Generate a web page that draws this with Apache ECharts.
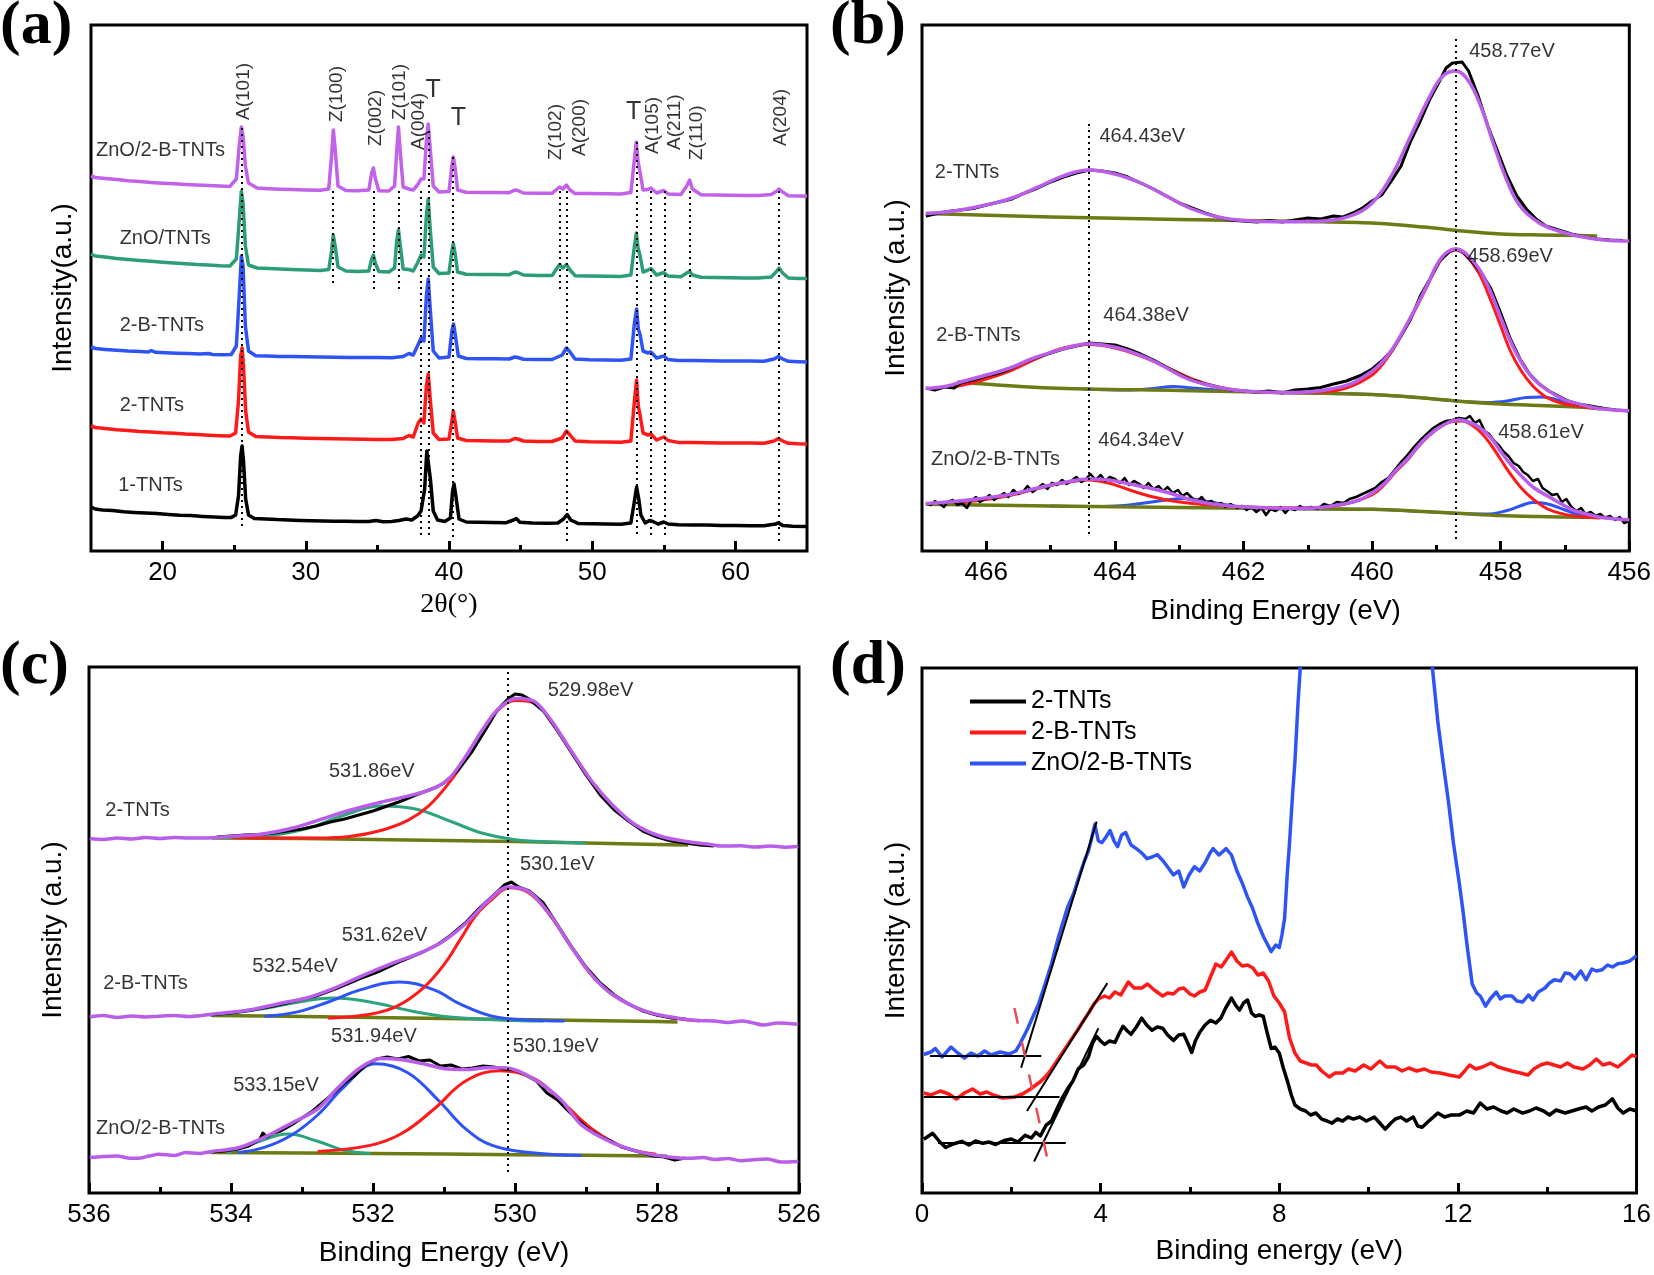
<!DOCTYPE html>
<html>
<head>
<meta charset="utf-8">
<script src="https://cdn.jsdelivr.net/npm/echarts@6/dist/echarts.min.js"></script>
<style>
html, body { margin: 0; padding: 0; background: #fff; }
#chart { width: 1654px; height: 1275px; }
</style>
</head>
<body>
<div id="chart"></div>
<script>
// ---------- (a) XRD, x = 2theta, y = height above panel bottom ----------
const xrd1TNTs = [[15.0,44],[15.3,42],[15.8,41],[16.5,40.5],[17.3,39.2],[18.0,38.6],[18.8,37.9],[19.6,37.4],[20.4,36.5],[21.2,35.8],[22.0,35.4],[22.8,34.6],[23.6,33.9],[24.3,33.5],[24.8,33.6],[25.1,36],[25.3,55],[25.45,95],[25.55,105],[25.65,90],[25.8,52],[26.0,36],[26.4,32.5],[27.2,32],[28.0,31.4],[28.8,31.1],[29.6,30.6],[30.4,30.3],[31.2,30],[32.0,29.8],[32.8,29.7],[33.6,29.5],[34.4,29.4],[34.9,30.5],[35.4,29.3],[36.0,29.4],[36.5,30.5],[37.0,32],[37.4,31],[37.8,35],[38.05,40],[38.3,62],[38.45,100],[38.55,102],[38.7,72],[38.9,40],[39.2,31],[39.7,29.5],[40.1,33],[40.25,60],[40.35,67],[40.45,58],[40.7,32],[41.2,29],[42.0,28.8],[43.0,28.5],[44.0,28.3],[44.5,31],[44.7,32.5],[44.95,28.8],[45.8,28],[46.8,27.8],[47.6,28],[48.0,32],[48.25,36.5],[48.5,31],[49.0,27.6],[50.0,27.2],[51.0,27],[52.0,26.8],[52.7,28],[52.95,50],[53.1,64],[53.25,52],[53.4,36],[53.7,28],[54.0,30.5],[54.2,29.8],[54.6,27],[55.0,29],[55.3,27],[56.0,26.3],[57.0,26],[58.0,25.9],[59.0,25.6],[60.0,25.4],[61.0,25.3],[62.0,25.2],[62.8,27],[63.0,28],[63.3,25.6],[64.0,24.8],[65.0,24.4]];
const xrd2TNTs = [[15.0,125],[15.3,123.5],[16.0,122.5],[16.8,121.2],[17.6,120.5],[18.4,119.6],[19.2,119],[20.0,118.2],[20.8,117.8],[21.6,117],[22.4,116.5],[23.2,115.8],[24.0,115.3],[24.7,115],[25.1,118],[25.3,150],[25.45,195],[25.55,203],[25.65,185],[25.8,140],[26.0,119],[26.5,114.5],[27.3,114],[28.2,113.4],[29.0,113.2],[30.0,112.7],[31.0,112.5],[32.0,112.2],[33.0,112],[34.0,111.8],[35.0,111.6],[36.0,111.5],[36.8,112.5],[37.2,115.5],[37.5,114],[37.85,128],[38.05,132],[38.25,128],[38.42,165],[38.55,177],[38.7,150],[38.9,118],[39.3,111.5],[40.0,112],[40.2,130],[40.3,140],[40.42,130],[40.6,113],[41.2,110.5],[42.2,110.3],[43.2,110],[44.2,110],[44.6,112.5],[44.8,112],[45.2,110],[46.2,109.6],[47.2,109.5],[47.9,113],[48.2,120],[48.45,116],[48.8,110],[49.8,109.3],[51.0,109],[52.0,108.8],[52.7,110],[52.95,150],[53.1,171],[53.22,145],[53.35,135],[53.55,118],[53.9,116],[54.1,117],[54.5,111],[55.0,114],[55.3,110.5],[56.0,108.6],[57.0,108.5],[58.0,108.3],[59.0,108.1],[60.0,108],[61.0,107.9],[62.0,107.8],[62.7,110],[63.0,112.5],[63.3,110],[63.7,107.7],[64.4,107.2],[65.0,107]];
const xrd2BTNTs = [[15.0,204],[15.3,202.5],[16.0,201.6],[16.8,200.8],[17.6,200],[18.4,199.5],[19.0,199],[19.2,200.5],[19.5,198.7],[20.2,198.3],[21.0,197.8],[21.8,197.4],[22.6,197],[23.2,197.5],[23.5,196.5],[24.2,196.2],[24.8,196.5],[25.15,205],[25.35,255],[25.5,295],[25.62,285],[25.78,225],[26.0,200],[26.5,195.2],[27.3,195],[28.2,194.6],[29.0,194.4],[30.0,194.2],[31.0,193.9],[32.0,193.8],[33.0,193.6],[34.0,193.5],[35.0,193.4],[36.0,193.3],[36.8,194.5],[37.2,197.5],[37.5,196],[37.8,205],[38.05,213],[38.25,210],[38.42,255],[38.55,272],[38.7,240],[38.9,200],[39.3,193],[40.0,194],[40.2,220],[40.32,227],[40.45,215],[40.65,195],[41.2,192.5],[42.2,192.3],[43.2,192.2],[44.2,192],[44.6,194],[44.8,193.5],[45.2,191.8],[46.2,191.6],[47.2,191.5],[47.9,196],[48.2,203],[48.45,199],[48.8,192],[49.8,191.2],[51.0,191],[52.0,190.8],[52.7,192],[52.95,228],[53.1,242],[53.22,222],[53.35,216],[53.55,200],[53.9,198],[54.1,199],[54.5,193],[55.0,195],[55.3,191.5],[56.0,190.6],[57.0,190.5],[58.0,190.3],[59.0,190.1],[60.0,190],[61.0,189.9],[62.0,189.8],[62.7,192],[63.0,194.5],[63.3,192],[63.7,189.7],[64.4,189.3],[65.0,189]];
const xrdZnOTNTs = [[15.0,297],[15.3,295],[16.0,294],[16.8,292.6],[17.6,291.5],[18.4,290.6],[19.2,289.7],[20.0,288.8],[20.8,288],[21.6,287.3],[22.4,286.5],[23.2,286],[24.0,285.3],[24.7,285],[25.15,292],[25.35,330],[25.5,360],[25.62,348],[25.78,305],[26.0,286],[26.6,283],[27.4,282.5],[28.2,282],[29.0,281.6],[30.0,281],[31.0,280.5],[31.6,281.5],[31.8,300],[31.92,316],[32.05,305],[32.25,284],[32.8,280],[33.6,279.5],[34.4,280],[34.6,292],[34.72,296],[34.85,288],[35.1,279.5],[35.8,279],[36.2,283],[36.35,310],[36.47,321],[36.6,305],[36.8,282],[37.2,281.5],[37.5,280],[37.8,288],[38.05,296],[38.25,294],[38.42,335],[38.55,352],[38.7,320],[38.9,284],[39.3,277.5],[40.0,278],[40.2,300],[40.3,307.5],[40.42,298],[40.6,279],[41.2,276.8],[42.2,276.6],[43.2,276.5],[44.2,276.3],[44.6,279],[44.8,278.5],[45.2,276],[46.2,275.6],[47.2,275.5],[47.55,283],[47.72,286.5],[47.95,283],[48.2,286.5],[48.45,281],[48.8,275.3],[49.8,275],[51.0,274.8],[52.0,274.6],[52.7,276],[52.95,305],[53.08,318],[53.2,303],[53.35,295],[53.55,279],[53.9,281],[54.1,282.5],[54.5,276],[55.0,278.5],[55.3,275],[56.2,274.3],[56.6,278],[56.8,279.7],[57.0,276],[57.6,273.8],[58.6,273.5],[59.6,273.3],[60.6,273.1],[61.6,273],[62.5,274],[62.9,280],[63.05,283],[63.3,278],[63.7,273],[64.4,272.6],[65.0,272.4]];
const xrdZnO2BTNTs = [[15.0,375],[15.3,373.5],[16.0,372.5],[16.8,371.4],[17.6,370.3],[18.4,369.5],[19.2,368.6],[20.0,367.8],[20.8,367.2],[21.6,366.5],[22.4,366],[23.2,365.4],[24.0,364.9],[24.7,364.6],[25.15,372],[25.35,405],[25.5,424],[25.62,415],[25.78,385],[26.0,368],[26.6,363],[27.4,362.3],[28.2,361.8],[29.0,361.4],[30.0,361],[31.0,360.8],[31.6,362],[31.8,395],[31.92,421],[32.05,402],[32.25,365],[32.8,360.5],[33.6,360.3],[34.4,361],[34.6,378],[34.72,383],[34.85,373],[35.1,360.2],[35.8,360],[36.2,365],[36.35,400],[36.47,424],[36.6,398],[36.8,364],[37.2,362],[37.5,361],[37.8,366],[38.05,372],[38.25,372],[38.42,410],[38.55,427],[38.7,400],[38.9,365],[39.3,359],[40.0,359.5],[40.2,385],[40.3,394],[40.42,384],[40.6,361],[41.2,358.8],[42.2,358.6],[43.2,358.4],[44.2,358.3],[44.6,361],[44.8,360.5],[45.2,358],[46.2,357.8],[47.2,357.7],[47.55,362],[47.72,364],[47.95,362],[48.2,366],[48.45,361],[48.8,357.5],[49.8,357.4],[51.0,357.2],[52.0,357],[52.7,358.5],[52.95,392],[53.08,409],[53.2,390],[53.35,378],[53.55,361],[53.9,361.5],[54.1,363],[54.5,358],[55.0,360.5],[55.3,357],[56.2,356.5],[56.6,365],[56.8,371],[57.0,362],[57.6,356.3],[58.6,356],[59.6,355.8],[60.6,355.6],[61.6,355.4],[62.5,356.5],[62.9,360],[63.05,362],[63.3,359],[63.7,355.3],[64.4,355],[65.0,354.8]];
const xrdGuides = [[25.52,423,22],[31.9,360,266],[34.73,360,260],[36.46,360,258],[38.05,360,14],[38.6,420,14],[40.26,394,14],[47.7,360,262],[48.25,360,6],[53.1,409,14],[54.07,360,12],[55.06,360,12],[56.83,360,258],[63.0,360,10]];
const xrdPeakNames = ['A(101)','Z(100)','Z(002)','Z(101)','A(004)','Z(102)','A(200)','A(105)','A(211)','Z(110)','A(204)'];
const xrdPeakPos = [[25.66,431],[32.16,429],[34.87,405],[36.58,431],[37.88,401],[47.47,391],[49.15,395],[54.25,397],[55.75,401],[57.32,391],[63.18,405]];
const xrdTNames = ['T','T','T'];
const xrdTPos = [[38.9,461],[40.66,433],[52.9,439]];
const xrdSampleNames = ['ZnO/2-B-TNTs','ZnO/TNTs','2-B-TNTs','2-TNTs','1-TNTs'];
const xrdSamplePos = [[15.35,401],[17.0,313],[17.0,226],[17.0,146],[16.9,66]];
const ticksA = [20,30,40,50,60];
const minorA = [25,35,45,55];

// ---------- (b) Ti 2p ----------
const tiData2TNTs = [[466.94,335],[466.8,337],[466.6,339.5],[466.4,341],[466.2,342.5],[466.0,346],[465.8,349],[465.6,352],[465.4,358],[465.2,363],[465.0,369],[464.8,374],[464.6,378],[464.4,381],[464.2,380],[464.0,378],[463.8,374],[463.6,368],[463.4,362],[463.2,355],[463.0,348],[462.8,343],[462.6,338],[462.4,334],[462.2,331],[462.0,330],[461.8,329],[461.6,330.5],[461.4,329],[461.2,331],[461.0,333],[460.8,332],[460.6,335],[460.45,334],[460.3,338],[460.15,343],[460.0,350],[459.85,356],[459.7,370],[459.55,385],[459.4,410],[459.25,430],[459.1,452],[458.95,470],[458.85,483],[458.75,488],[458.6,489],[458.5,480],[458.35,455],[458.2,425],[458.05,400],[457.9,375],[457.75,355],[457.6,342],[457.45,332],[457.3,325],[457.1,321],[456.9,317],[456.7,314],[456.5,312],[456.3,311],[456.1,310.5]];
const tiFit2TNTs = [[466.94,337.4],[466.5,340],[466.04,345.5],[465.6,353],[465.2,363.8],[464.8,375.2],[464.4,380.9],[464.0,377],[463.6,368],[463.2,355],[462.8,342],[462.4,334],[462.0,330.5],[461.5,329.3],[461.0,329.5],[460.6,331],[460.3,336],[460.0,348],[459.7,375],[459.4,415],[459.1,455],[458.9,475],[458.7,480],[458.5,470],[458.3,443],[458.1,405],[457.9,370],[457.7,345],[457.4,328],[457.1,320],[456.8,315],[456.4,311],[456.0,310]];
const tiBg2TNTs = [[466.94,337.4],[465,334],[463,331.5],[461,329.5],[460,328],[459.2,324],[458.6,320],[458,317],[457.4,316],[456.8,315.5],[456.5,315]];
const tiData2B = [[466.94,163],[466.8,161],[466.65,164],[466.5,163],[466.4,168],[466.2,171],[466.0,175],[465.8,178],[465.6,183],[465.4,189],[465.2,194],[465.0,198],[464.8,202],[464.6,205],[464.4,208],[464.2,207],[464.0,206],[463.8,202],[463.6,197],[463.4,191],[463.2,184],[463.0,177],[462.8,171],[462.6,167],[462.4,164],[462.2,161],[462.0,160],[461.8,159],[461.6,160],[461.4,158],[461.2,161],[461.0,162],[460.8,163.5],[460.6,167],[460.4,170],[460.2,175],[460.0,182],[459.85,190],[459.7,200],[459.55,215],[459.4,232],[459.25,255],[459.1,272],[458.95,290],[458.8,299],[458.7,302],[458.6,300],[458.45,290],[458.3,278],[458.15,262],[458.0,238],[457.85,212],[457.7,192],[457.55,177],[457.4,167],[457.25,160],[457.1,155],[456.95,150],[456.8,147],[456.6,145],[456.4,142.5],[456.2,141],[456.0,140]];
const tiFit2B = [[466.94,162.6],[466.6,165],[466.37,169.5],[466.0,176],[465.63,183],[465.3,192],[465.06,197.2],[464.7,204],[464.4,207.3],[464.1,205],[463.84,201.2],[463.5,193],[463.25,185],[462.9,173],[462.6,166.7],[462.2,161.5],[461.94,159.8],[461.6,158.8],[461.3,158.5],[460.9,159.5],[460.64,162],[460.3,168],[459.98,180.9],[459.8,192],[459.65,205.3],[459.5,222],[459.3,245.9],[459.15,265],[458.99,286.6],[458.85,298],[458.7,302],[458.55,298],[458.34,282.5],[458.15,258],[458.0,233.7],[457.85,210],[457.68,189],[457.5,173],[457.27,160.6],[457.0,151],[456.86,148.4],[456.6,144],[456.45,142.3],[456.2,140.8],[456.0,140.2]];
const tiRed2B = [[466.5,164],[466.0,172],[465.6,181],[465.2,193],[464.8,203],[464.4,206.5],[464.0,203],[463.6,195],[463.2,184],[462.8,172],[462.4,164],[462.0,160],[461.6,158.5],[461.2,158.3],[460.8,159],[460.4,163],[460.0,176],[459.8,190],[459.65,204],[459.5,221],[459.3,245],[459.15,264],[458.99,285],[458.85,297],[458.7,301],[458.55,296],[458.34,278],[458.15,250],[458.0,225],[457.85,200],[457.68,180],[457.5,165],[457.27,153],[457.0,147],[456.86,145.5],[456.6,143],[456.45,142]];
const tiBlue2B = [[464.5,162],[463.8,161],[463.4,162.5],[463.1,164.5],[462.8,163],[462.4,161],[462.0,159.8],[461.0,158],[460.0,156.5],[459.2,153],[458.6,149.5],[458.2,148.5],[457.9,150],[457.6,153.5],[457.35,154],[457.1,151],[456.85,146.5],[456.6,144],[456.4,142.5]];
const tiBg2B = [[466.45,169],[465,163],[463,160.5],[461,158],[460,156.5],[459.2,153],[458.6,149.5],[458,147],[457.4,145.5],[456.8,144],[456.4,142.5]];
const tiDataZnO = [[466.94,48],[466.86,46],[466.8,50],[466.72,47],[466.66,44],[466.6,49],[466.52,51],[466.45,46],[466.38,48],[466.3,43],[466.24,50],[466.16,54],[466.1,49],[466.02,52],[465.95,56],[465.88,51],[465.8,55],[465.72,58],[465.66,54],[465.58,61],[465.5,57],[465.42,60],[465.36,65],[465.28,59],[465.2,63],[465.12,67],[465.05,62],[464.98,68],[464.9,66],[464.82,71],[464.75,67],[464.68,70],[464.6,74],[464.52,69],[464.45,72],[464.38,77],[464.3,71],[464.22,76],[464.15,70],[464.08,74],[464.0,72],[463.92,68],[463.85,73],[463.78,66],[463.7,70],[463.62,67],[463.55,63],[463.48,68],[463.4,62],[463.32,65],[463.25,60],[463.18,64],[463.1,58],[463.02,61],[462.95,55],[462.88,58],[462.8,53],[462.72,50],[462.65,54],[462.58,48],[462.5,50],[462.42,46],[462.35,48],[462.28,44],[462.2,47],[462.1,43],[462.02,45],[461.95,41],[461.88,44],[461.8,39],[461.72,43],[461.65,36],[461.58,42],[461.5,40],[461.42,44],[461.35,38],[461.28,43],[461.2,41],[461.12,45],[461.05,42],[460.95,44],[460.85,42],[460.75,47],[460.65,45],[460.55,49],[460.45,48],[460.35,52],[460.25,54],[460.15,57],[460.05,60],[459.95,63],[459.85,69],[459.75,73],[459.65,81],[459.55,89],[459.45,96],[459.35,104],[459.25,111],[459.15,117],[459.05,123],[458.95,127],[458.85,130],[458.75,131],[458.65,133],[458.55,132],[458.48,135],[458.4,128],[458.33,131],[458.25,120],[458.18,117],[458.1,110],[458.02,105],[457.95,99],[457.88,95],[457.8,88],[457.72,85],[457.65,79],[457.58,76],[457.5,70],[457.42,72],[457.35,63],[457.28,60],[457.2,56],[457.12,57],[457.05,49],[456.98,52],[456.9,44],[456.82,40],[456.75,43],[456.68,37],[456.6,39],[456.52,35],[456.45,37],[456.38,33],[456.3,35],[456.22,31],[456.15,34],[456.08,28],[456.0,30]];
const tiFitZnO = [[466.94,47.6],[466.5,49.5],[466.04,52.8],[465.6,57],[465.2,63],[464.8,68.5],[464.4,72],[464.1,71],[463.77,67],[463.4,62],[463.1,57],[462.8,51],[462.45,46.7],[462.1,44.5],[461.78,43.5],[461.4,42.8],[461.13,42.7],[460.8,43.5],[460.47,46.7],[460.2,51],[459.98,58.9],[459.8,68],[459.65,79.3],[459.45,92],[459.3,103.7],[459.15,114],[458.99,122],[458.8,129],[458.66,131.3],[458.5,129],[458.34,124],[458.15,113],[458.0,99.6],[457.85,87],[457.68,75.2],[457.5,64],[457.27,54.9],[457.0,45],[456.86,40.7],[456.6,36],[456.45,33.7],[456.2,32],[456.0,31.3]];
const tiRedZnO = [[466.5,48],[466.0,51.5],[465.6,56],[465.2,62.5],[464.8,68],[464.4,71.1],[464.1,68],[463.77,61],[463.4,54],[463.1,50],[462.8,47.5],[462.4,45.5],[462.0,44.3],[461.5,43],[461.0,43.2],[460.6,45],[460.3,49],[459.98,57],[459.8,67],[459.65,78],[459.45,91],[459.3,103],[459.1,116],[458.9,126],[458.75,129.5],[458.6,130],[458.45,126],[458.3,118],[458.15,106],[458.0,91.5],[457.85,77],[457.68,63],[457.5,52],[457.27,42],[457.0,36.5],[456.86,35],[456.6,33.5],[456.45,33]];
const tiBlueZnO = [[465.0,45],[464.4,44.5],[464.0,45],[463.6,47.5],[463.2,51],[462.93,52.5],[462.6,50],[462.2,45.5],[461.8,42.8],[461.0,42.2],[460.0,41.7],[459.2,39.5],[458.6,37.5],[458.2,37],[457.9,40.5],[457.7,45],[457.5,48.5],[457.3,47.5],[457.0,41],[456.8,36.5],[456.6,34.5],[456.45,33.5]];
const tiBgZnO = [[466.94,46.7],[465,45],[463,43.5],[461,42.2],[460,41.7],[459.2,39.5],[458.6,37.5],[458,35.5],[457.4,34.5],[456.8,33.8],[456.3,33.5]];
const tiGuides = [[464.4,427,16],[458.7,512,12]];
const tiLabelNames = ['458.77eV','464.43eV','2-TNTs','458.69eV','464.38eV','2-B-TNTs','458.61eV','464.34eV','ZnO/2-B-TNTs'];
const tiLabelPos = [[458.49,500],[464.24,415],[466.8,379],[458.52,295],[464.18,236],[466.78,216],[458.04,119],[464.26,111],[466.86,92]];
const ticksB = [456,458,460,462,464,466];
const minorB = [457,459,461,463,465];

// ---------- (c) O 1s ----------
const oData2TNTs = [[534.2,356],[534.0,357],[533.8,358],[533.6,358.5],[533.4,360],[533.2,362],[533.0,364],[532.8,367],[532.6,371],[532.4,374],[532.2,378],[532.0,382],[531.8,387],[531.6,392],[531.4,398],[531.25,402],[531.1,406],[531.0,410],[530.8,423],[530.6,442],[530.4,465],[530.25,483],[530.1,494],[530.0,499],[529.9,498],[529.8,494],[529.6,482],[529.4,462],[529.2,440],[529.0,418],[528.8,398],[528.6,383],[528.4,372],[528.2,362],[528.0,356],[527.8,352],[527.6,350],[527.4,348],[527.2,347]];
const oFit2TNTs = [[535.99,354.5],[535.8,353.5],[535.6,355],[535.4,354],[535.2,355.5],[535.0,354.5],[534.8,355.5],[534.6,355],[534.27,355.3],[533.9,357],[533.53,359.3],[533.08,365.8],[532.78,372.6],[532.33,382.7],[531.89,390.8],[531.44,398.1],[531.14,404.9],[530.92,415],[530.69,437],[530.47,462],[530.25,483],[529.99,494.5],[529.73,491.7],[529.5,473.6],[529.2,441.3],[528.91,411],[528.61,386.8],[528.31,368.6],[527.94,356.5],[527.56,351.2],[527.3,349],[527.1,347],[526.82,347.2],[526.6,346],[526.4,347],[526.2,345.8],[526.01,346.4]];
const oRed2TNTs = [[534.0,355.5],[533.3,355],[532.78,355],[532.33,356.5],[531.89,362.5],[531.51,372.6],[531.22,386.8],[530.92,411],[530.69,435],[530.47,461],[530.25,482],[529.99,492.5],[529.73,490],[529.5,472.5],[529.2,440],[528.91,410],[528.61,386],[528.31,368],[527.94,356],[527.56,350.5],[527.3,348.5]];
const oTeal2TNTs = [[534.2,355.5],[533.53,357],[532.93,364.5],[532.41,377.8],[531.89,387],[531.4,384],[530.92,372],[530.47,360],[530.02,353.5],[529.5,351],[529.0,350]];
const oBg2TNTs = [[534.27,355],[533,354.5],[532,353.5],[531,352.5],[530,351.5],[529,350],[528,348.5],[527.56,348]];
const oData2B = [[534.3,178],[534.0,180],[533.7,183],[533.4,187],[533.1,192],[532.8,197],[532.5,205],[532.2,214],[531.9,222],[531.6,232],[531.3,241],[531.1,248],[530.9,258],[530.7,270],[530.5,285],[530.3,298],[530.15,308],[530.05,311],[529.95,306],[529.8,302],[529.6,290],[529.4,268],[529.2,246],[529.0,226],[528.8,210],[528.6,198],[528.4,189],[528.2,182],[528.0,178],[527.8,175],[527.6,174]];
const oFit2B = [[535.99,176],[535.8,177.5],[535.6,175.5],[535.4,177],[535.2,176],[535.02,176.8],[534.8,177.5],[534.6,176.5],[534.27,178.8],[533.75,182.9],[533.3,189.7],[532.93,195],[532.56,204.3],[532.18,216.4],[531.74,229.3],[531.29,241.4],[530.99,252.7],[530.69,269.7],[530.4,290.7],[530.1,306],[529.8,301.2],[529.5,277.8],[529.2,245.5],[528.91,217.2],[528.61,197.8],[528.16,181.7],[527.71,174.8],[527.4,172.5],[527.19,172],[527.0,170.5],[526.8,172],[526.67,170.4],[526.5,168],[526.3,170],[526.01,168.8]];
const oRed2B = [[532.63,174.8],[532.04,178.8],[531.66,186.9],[531.29,205.1],[530.99,229.3],[530.77,253.6],[530.55,277.8],[530.32,293.9],[530.08,305.2],[529.8,300],[529.5,277],[529.2,245],[528.91,217],[528.61,197.5],[528.16,181.5],[527.71,174.5],[527.4,172]];
const oBlue2B = [[533.53,176.8],[533.08,180.9],[532.63,191],[532.18,203.1],[531.63,211.1],[531.14,203.1],[530.77,188.9],[530.32,176.8],[529.8,172.8],[529.3,172]];
const oTeal2B = [[534.12,178.8],[533.53,184.5],[533.0,191.5],[532.56,195],[532.04,191],[531.44,181.7],[530.92,176],[530.17,172.8],[529.6,172]];
const oBg2B = [[534.27,177.5],[533,176.5],[532,175.5],[531,174.5],[530,173.5],[529,172.5],[528,171.5],[527.71,171]];
const oDataZnO = [[534.3,41],[534.1,42],[533.9,44],[533.75,47],[533.6,53],[533.55,60],[533.5,56],[533.4,60],[533.3,62],[533.15,68],[533.0,75],[532.85,82],[532.7,91],[532.55,100],[532.4,110],[532.25,118],[532.1,128],[531.95,134],[531.8,136],[531.65,134],[531.5,136.5],[531.35,132],[531.2,133],[531.05,127],[530.9,128],[530.75,124],[530.6,125],[530.45,127],[530.3,126],[530.15,124],[530.0,123],[529.85,118],[529.7,112],[529.55,100],[529.4,93],[529.25,82],[529.1,72],[528.95,63],[528.8,57],[528.65,52],[528.5,46],[528.35,43],[528.2,40],[528.05,37],[527.9,36],[527.75,33],[527.6,35]];
const oFitZnO = [[535.99,35.5],[535.8,36.5],[535.61,37.1],[535.45,35],[535.31,34.7],[535.15,37],[535.02,38.8],[534.8,37.5],[534.64,40.4],[534.45,39.5],[534.27,41.6],[533.9,45.2],[533.53,55.7],[533.15,69.8],[532.78,84],[532.48,106.2],[532.18,125.2],[531.89,134.4],[531.59,133.2],[531.29,129.2],[530.99,124.3],[530.69,123.5],[530.4,125.2],[530.17,125.2],[529.95,121.9],[529.65,110],[529.35,93],[529.06,67.8],[528.61,49.7],[528.16,39.6],[527.86,36.3],[527.56,34.7],[527.35,35.5],[527.19,33.5],[527.0,34.5],[526.82,32.3],[526.6,33.5],[526.45,33.9],[526.25,31],[526.01,31.5]];
const oRedZnO = [[532.78,41.6],[532.04,47.6],[531.59,59.7],[531.14,84],[530.69,112.2],[530.21,122.3],[529.73,114.3],[529.35,92],[528.91,63.8],[528.46,45.6],[528.01,38.8]];
const oBlueZnO = [[533.9,40.4],[533.53,45.6],[533.15,57.7],[532.78,78],[532.41,106],[531.96,129.2],[531.51,120.3],[531.07,92],[530.69,63.8],[530.32,47.6],[529.8,40.4],[529.06,37.5]];
const oTealZnO = [[534.05,40.4],[533.68,49.7],[533.19,58.9],[532.78,51.7],[532.41,42.8],[532.04,39.6]];
const oBgZnO = [[534.27,40.4],[532,39.5],[530,38.3],[528,37],[527.86,36.8]];
const oGuides = [[530.1,521,21]];
const oLabelNames = ['529.98eV','531.86eV','2-TNTs','530.1eV','531.62eV','532.54eV','2-B-TNTs','531.94eV','530.19eV','533.15eV','ZnO/2-B-TNTs'];
const oLabelPos = [[529.54,503],[532.62,422],[535.77,383],[529.93,329],[532.44,258],[533.7,227],[535.8,210],[532.59,157],[530.03,147],[533.97,108],[535.9,65]];
const ticksC = [526,528,530,532,534,536];
const minorC = [527,529,531,533,535];

// ---------- (d) valence band ----------
const vb2TNTs = [[0.04,53.7],[0.24,59.7],[0.4,51],[0.53,45.6],[0.7,49],[0.89,51.7],[1.05,48],[1.2,52],[1.36,49.7],[1.5,51],[1.65,48.5],[1.84,52.5],[2.0,54],[2.15,51],[2.31,57.7],[2.45,55],[2.55,60.6],[2.65,57],[2.78,67.8],[2.9,72],[3.02,84],[3.14,95],[3.26,104.2],[3.38,112],[3.5,124.3],[3.62,128],[3.73,136.5],[3.82,150],[3.91,156.6],[4.0,152],[4.09,148.6],[4.2,152],[4.32,150.6],[4.42,160],[4.5,166.7],[4.6,162],[4.68,158.7],[4.8,166],[4.92,174.8],[5.03,168],[5.15,162.7],[5.27,166],[5.39,164.7],[5.5,158],[5.63,152.6],[5.75,158],[5.86,158.7],[5.95,150],[6.04,140.5],[6.12,152],[6.22,160.7],[6.34,168],[6.46,172.8],[6.58,170],[6.69,174.8],[6.8,185],[6.93,195],[7.02,188],[7.11,182.9],[7.2,190],[7.29,193],[7.38,180],[7.46,176.8],[7.55,178],[7.64,176.8],[7.73,160],[7.82,144.5],[7.9,146],[8.0,140],[8.09,125],[8.18,112.2],[8.27,98],[8.35,88],[8.47,84],[8.59,82],[8.7,78],[8.82,80],[8.95,73.9],[9.07,72],[9.18,69.8],[9.3,74],[9.42,72],[9.54,76],[9.66,73.9],[9.8,76],[9.95,72],[10.13,75.9],[10.25,70],[10.37,63.8],[10.5,70],[10.6,74],[10.72,75.9],[10.85,72],[11.0,76],[11.1,67],[11.2,65.8],[11.35,72],[11.55,79.9],[11.7,76],[11.85,78],[12.03,77.9],[12.2,82],[12.35,80],[12.5,90],[12.65,84],[12.8,86],[12.97,82],[13.1,80],[13.25,84],[13.45,79.9],[13.6,82],[13.75,85],[13.92,82],[14.05,78],[14.2,83],[14.4,80],[14.55,82],[14.7,84],[14.87,86],[15.0,82],[15.15,86],[15.3,88],[15.46,94.1],[15.58,85],[15.7,79.9],[15.85,84],[16.0,82]];
const vb2BTNTs = [[0.04,100],[0.2,98],[0.41,102],[0.6,99],[0.77,94],[0.95,100],[1.13,104],[1.3,99],[1.45,101],[1.6,98],[1.8,95],[2.07,96],[2.25,99],[2.43,104],[2.55,108],[2.67,112],[2.8,118],[2.9,124],[3.02,132],[3.14,140],[3.26,148],[3.38,156],[3.5,164],[3.61,172],[3.73,180],[3.85,189],[3.95,194],[4.09,197],[4.2,195],[4.32,201],[4.45,198],[4.62,211],[4.75,205],[4.92,205],[5.05,209],[5.2,203],[5.39,197],[5.5,200],[5.63,199],[5.75,204],[5.86,205],[6.0,199],[6.1,197],[6.22,201],[6.34,203],[6.45,215],[6.58,229],[6.7,226],[6.81,233],[6.93,241],[7.05,232],[7.17,227],[7.29,228],[7.41,225],[7.52,218],[7.64,220],[7.76,212],[7.88,197],[8.0,190],[8.12,181],[8.23,155],[8.35,140],[8.47,132],[8.6,130],[8.72,128],[8.83,128],[8.95,122],[9.12,116],[9.25,120],[9.42,120],[9.55,124],[9.7,122],[9.89,128],[10.05,124],[10.25,132],[10.4,126],[10.6,126],[10.75,122],[10.9,125],[11.08,122],[11.25,124],[11.4,121],[11.6,120],[11.8,118],[12.03,116],[12.15,122],[12.26,128],[12.4,124],[12.55,126],[12.74,130],[12.9,126],[13.05,124],[13.21,122],[13.4,120],[13.57,118],[13.7,124],[13.85,128],[14.0,130],[14.15,128],[14.3,126],[14.45,130],[14.6,126],[14.8,124],[14.95,128],[15.1,134],[15.25,128],[15.4,130],[15.58,126],[15.75,132],[15.9,138],[16.0,136]];
const vbZnO2BTNTs = [[0.04,138.5],[0.2,141],[0.3,144.5],[0.45,136],[0.65,146],[0.8,140],[0.95,135],[1.1,140],[1.25,137],[1.4,142],[1.55,138],[1.75,141],[1.95,139],[2.1,142],[2.19,148.6],[2.37,164.7],[2.5,178],[2.61,188.9],[2.75,208],[2.9,229.3],[3.05,255],[3.26,285.8],[3.4,300],[3.5,314.1],[3.62,330],[3.73,342.3],[3.8,355],[3.87,368.6],[3.95,352],[4.03,350.4],[4.12,356],[4.21,362.5],[4.3,352],[4.38,346.4],[4.47,358],[4.56,360.5],[4.68,348],[4.8,344.4],[4.92,340],[5.04,334.3],[5.15,336],[5.27,338.3],[5.4,332],[5.5,326],[5.63,318.1],[5.75,322],[5.86,306],[5.98,318],[6.1,326.2],[6.22,322],[6.34,330.2],[6.45,340],[6.52,344.4],[6.65,338],[6.81,344.4],[6.93,338],[7.05,322.2],[7.17,310],[7.29,295.9],[7.4,285],[7.52,269.7],[7.65,256],[7.82,241.4],[7.92,248],[8.0,245.5],[8.06,258],[8.12,275],[8.18,320],[8.23,350.4],[8.3,400],[8.35,431.2],[8.42,490],[8.47,524.8],[8.55,600],[8.7,650],[11.2,650],[11.35,600],[11.43,524.8],[11.55,471.5],[11.67,430],[11.79,390.8],[11.9,350],[12.03,310],[12.12,280],[12.2,249.5],[12.32,209.1],[12.42,200],[12.5,197],[12.62,186.9],[12.72,194],[12.86,201],[12.95,194],[13.05,197],[13.21,197],[13.32,192],[13.45,191],[13.58,198],[13.68,193],[13.8,201],[13.95,205],[14.05,210],[14.16,213.2],[14.3,212],[14.4,220],[14.51,219.2],[14.62,214],[14.75,222],[14.87,213.2],[15.0,224],[15.1,222],[15.23,223.3],[15.35,228],[15.46,226],[15.58,229.3],[15.7,230],[15.85,232],[16.0,237.4]];
// onset construction: baselines and tangents, then the dashed guide
const vbTangents = [[[0.18,137.7],[2.67,137.7]],[[2.22,125.2],[3.91,371.4]],[[0.04,96.1],[3.08,96.1]],[[2.35,82],[4.15,209.9]],[[0.36,50.5],[3.22,50.5]],[[2.51,31.5],[3.95,164.7]]];
const vbOnset = [[[2.07,185],[2.88,19.4]]];
const ticksD = [0,4,8,12,16];
const minorD = [2,6,10,14];

// ---------- chart ----------
const SANS = 'Liberation Sans, Arial, sans-serif';
const SERIF = 'Liberation Serif, Times New Roman, serif';
const H = [526, 526, 526, 525];

function mainX(gi, min, max, inverse, ticks, name, gap, font) {
  return {
    type: 'value', gridIndex: gi, min: min, max: max, inverse: inverse, position: 'bottom',
    axisLine: { show: false }, splitLine: { show: false },
    axisTick: { show: true, inside: true, length: 10, customValues: ticks, lineStyle: { color: '#000', width: 3 } },
    axisLabel: { show: true, customValues: ticks, margin: 9, color: '#000', fontSize: 26, fontFamily: SANS },
    name: name, nameLocation: 'middle', nameGap: gap,
    nameTextStyle: { color: '#000', fontSize: 28, fontFamily: font || SANS }
  };
}
function minorX(gi, min, max, inverse, ticks) {
  return {
    type: 'value', gridIndex: gi, min: min, max: max, inverse: inverse, position: 'bottom',
    axisLine: { show: false }, splitLine: { show: false }, axisLabel: { show: false },
    axisTick: { show: true, inside: true, length: 6, customValues: ticks, lineStyle: { color: '#000', width: 3 } }
  };
}
function yAx(gi, name, gap) {
  return {
    type: 'value', gridIndex: gi, min: 0, max: H[gi],
    axisLine: { show: false }, axisTick: { show: false }, axisLabel: { show: false }, splitLine: { show: false },
    name: name, nameLocation: 'middle', nameGap: gap,
    nameTextStyle: { color: '#000', fontSize: 28, fontFamily: SANS }
  };
}
function curve(name, data, color, gi, width, smooth) {
  return {
    type: 'line', name: name, data: data, xAxisIndex: gi, yAxisIndex: gi,
    symbol: 'none', showSymbol: false, smooth: smooth || false, clip: true, silent: true, animation: false,
    lineStyle: { color: color, width: width, join: 'round' }, itemStyle: { color: color }
  };
}
function texts(names, pos, gi, size, extra) {
  return {
    type: 'scatter', xAxisIndex: gi, yAxisIndex: gi, symbolSize: 0, silent: true, animation: false, z: 10,
    data: names.map(function (n, i) { return { name: n, value: pos[i] }; }),
    label: Object.assign({ show: true, position: 'inside', align: 'left', verticalAlign: 'middle',
      formatter: '{b}', color: '#000', fontSize: size, fontFamily: SANS }, extra || {})
  };
}
function segs(list, gi, style) {
  return {
    type: 'scatter', xAxisIndex: gi, yAxisIndex: gi, symbolSize: 0, silent: true, animation: false, z: 9,
    data: [list[0][0]],
    markLine: {
      silent: true, animation: false, symbol: ['none', 'none'], label: { show: false },
      lineStyle: style, emphasis: { disabled: true },
      data: list.map(function (s) { return [{ coord: s[0] }, { coord: s[1] }]; })
    }
  };
}
function vguides(list) {
  return list.map(function (g) { return [[g[0], g[1]], [g[0], g[2]]]; });
}

const dotted = { color: '#000', width: 2, type: [2, 4] };
const col = { black: '#000000', red: '#ff1a1a', blue: '#2f54f5', green: '#2d9d78', purple: '#c261ea',
  fit: '#b95ee9', olive: '#6e7b14', teal: '#2ba47f', dash: '#ec4b5a' };

const option = {
  backgroundColor: '#fff',
  animation: false,
  grid: [
    { left: 91, top: 25, width: 716, height: 526 },
    { left: 922, top: 25, width: 710, height: 526 },
    { left: 89, top: 667, width: 710, height: 526 },
    { left: 922, top: 668, width: 715, height: 525 }
  ].map(function (g) { return Object.assign({ show: true, borderColor: '#000', borderWidth: 3, backgroundColor: 'transparent' }, g); }),
  xAxis: [
    mainX(0, 15, 65, false, ticksA, '2θ(°)', 40, SERIF),
    mainX(1, 456, 467, true, ticksB, 'Binding Energy (eV)', 46),
    mainX(2, 526, 536, true, ticksC, 'Binding Energy (eV)', 46),
    mainX(3, 0, 16, false, ticksD, 'Binding energy (eV)', 44),
    minorX(0, 15, 65, false, minorA),
    minorX(1, 456, 467, true, minorB),
    minorX(2, 526, 536, true, minorC),
    minorX(3, 0, 16, false, minorD)
  ],
  yAxis: [
    yAx(0, 'Intensity(a.u.)', 14),
    yAx(1, 'Intensity (a.u.)', 12),
    yAx(2, 'Intensity (a.u.)', 22),
    yAx(3, 'Intensity (a.u.)', 12)
  ],
  legend: {
    data: ['2-TNTs', '2-B-TNTs', 'ZnO/2-B-TNTs'],
    orient: 'vertical', left: 970, top: 689, padding: 0, itemGap: 6,
    icon: 'rect', itemWidth: 56, itemHeight: 4, selectedMode: false,
    textStyle: { color: '#000', fontSize: 25, fontFamily: SANS }
  },
  graphic: [
    { type: 'text', left: 0, top: -4, style: { text: '(a)', font: 'bold 62px ' + SERIF, fill: '#000' } },
    { type: 'text', left: 830, top: -4, style: { text: '(b)', font: 'bold 62px ' + SERIF, fill: '#000' } },
    { type: 'text', left: 0, top: 636, style: { text: '(c)', font: 'bold 62px ' + SERIF, fill: '#000' } },
    { type: 'text', left: 830, top: 636, style: { text: '(d)', font: 'bold 62px ' + SERIF, fill: '#000' } }
  ],
  series: [
    // (a)
    curve('a1', xrd1TNTs, col.black, 0, 3.5),
    curve('a2', xrd2TNTs, col.red, 0, 3.5),
    curve('a3', xrd2BTNTs, col.blue, 0, 3.5),
    curve('a4', xrdZnOTNTs, col.green, 0, 3.5),
    curve('a5', xrdZnO2BTNTs, col.purple, 0, 3.5),
    segs(vguides(xrdGuides), 0, dotted),
    texts(xrdPeakNames, xrdPeakPos, 0, 19, { rotate: 90 }),
    texts(xrdTNames, xrdTPos, 0, 25, { align: 'center' }),
    texts(xrdSampleNames, xrdSamplePos, 0, 20),
    // (b)
    curve('b-bg1', tiBg2TNTs, col.olive, 1, 3.5, 0.3),
    curve('b-data1', tiData2TNTs, col.black, 1, 3),
    curve('b-fit1', tiFit2TNTs, col.fit, 1, 3.5, 0.4),
    curve('b-blue2', tiBlue2B, col.blue, 1, 3, 0.4),
    curve('b-bg2', tiBg2B, col.olive, 1, 3.5, 0.3),
    curve('b-red2', tiRed2B, col.red, 1, 3, 0.4),
    curve('b-data2', tiData2B, col.black, 1, 3),
    curve('b-fit2', tiFit2B, col.fit, 1, 3.5, 0.4),
    curve('b-blue3', tiBlueZnO, col.blue, 1, 3, 0.4),
    curve('b-bg3', tiBgZnO, col.olive, 1, 3.5, 0.3),
    curve('b-red3', tiRedZnO, col.red, 1, 3, 0.4),
    curve('b-data3', tiDataZnO, col.black, 1, 2.5),
    curve('b-fit3', tiFitZnO, col.fit, 1, 3.5, 0.4),
    segs(vguides(tiGuides), 1, dotted),
    texts(tiLabelNames, tiLabelPos, 1, 20),
    // (c)
    curve('c-bg1', oBg2TNTs, col.olive, 2, 3.5, 0.3),
    curve('c-teal1', oTeal2TNTs, col.teal, 2, 3, 0.4),
    curve('c-red1', oRed2TNTs, col.red, 2, 3, 0.4),
    curve('c-data1', oData2TNTs, col.black, 2, 3),
    curve('c-fit1', oFit2TNTs, col.fit, 2, 3.5, 0.3),
    curve('c-bg2', oBg2B, col.olive, 2, 3.5, 0.3),
    curve('c-teal2', oTeal2B, col.teal, 2, 3, 0.4),
    curve('c-blue2', oBlue2B, col.blue, 2, 3, 0.4),
    curve('c-red2', oRed2B, col.red, 2, 3, 0.4),
    curve('c-data2', oData2B, col.black, 2, 3),
    curve('c-fit2', oFit2B, col.fit, 2, 3.5, 0.3),
    curve('c-bg3', oBgZnO, col.olive, 2, 3.5, 0.3),
    curve('c-teal3', oTealZnO, col.teal, 2, 3, 0.4),
    curve('c-blue3', oBlueZnO, col.blue, 2, 3, 0.4),
    curve('c-red3', oRedZnO, col.red, 2, 3, 0.4),
    curve('c-data3', oDataZnO, col.black, 2, 3),
    curve('c-fit3', oFitZnO, col.fit, 2, 3.5, 0.3),
    segs(vguides(oGuides), 2, dotted),
    texts(oLabelNames, oLabelPos, 2, 20),
    // (d)
    curve('2-TNTs', vb2TNTs, col.black, 3, 3.5),
    curve('2-B-TNTs', vb2BTNTs, col.red, 3, 3.5),
    curve('ZnO/2-B-TNTs', vbZnO2BTNTs, col.blue, 3, 3.5),
    segs(vbTangents, 3, { color: '#000', width: 2, type: 'solid' }),
    segs(vbOnset, 3, { color: col.dash, width: 2.5, type: [16, 18] })
  ]
};

const chart = echarts.init(document.getElementById('chart'));
chart.setOption(option);
</script>
</body>
</html>
